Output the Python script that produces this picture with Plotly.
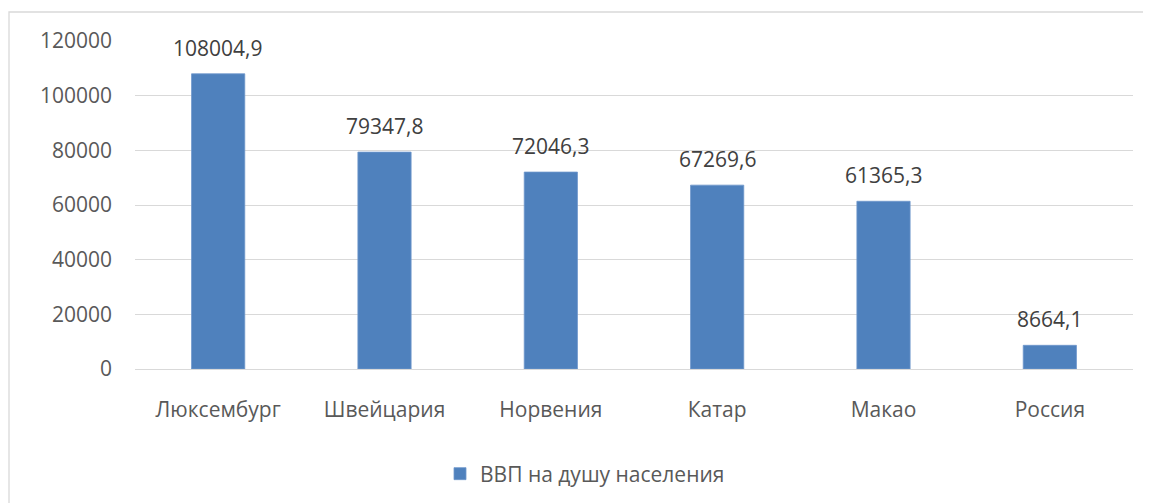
import plotly.graph_objects as go

categories = ["Люксембург", "Швейцария", "Норвения", "Катар", "Макао", "Россия"]
values = [108004.9, 79347.8, 72046.3, 67269.6, 61365.3, 8664.1]
series_name = "ВВП на душу населения"
y_ticks = [0, 20000, 40000, 60000, 80000, 100000, 120000]

labels = [f"{v:.1f}".replace(".", ",") for v in values]

OFF = 8  # default page body margin
W, H = 1151 - OFF, 503 - OFF
L, T = 135 - OFF, 41 - OFF
R = W - (1133 - OFF)
B = H - (369 - OFF)
pw, ph = W - L - R, H - T - B
FS = 21

fig = go.Figure(go.Bar(
    x=categories, y=values, name=series_name,
    marker=dict(color="#4f81bd", line=dict(color="#6f97cc", width=0.8)),
    showlegend=True,
))

for c, v, t in zip(categories, values, labels):
    fig.add_annotation(x=c, y=v, text=t, showarrow=False, yanchor="bottom",
                       yshift=10, font=dict(color="#404040", size=FS, family="Open Sans"))

legend_x = (585 - OFF - L) / pw
legend_y = -(474 - OFF - (T + ph)) / ph

fig.update_layout(
    width=W, height=H,
    margin=dict(l=L, r=R, t=T, b=B, autoexpand=False),
    paper_bgcolor="white", plot_bgcolor="white",
    font=dict(family="Open Sans", size=FS, color="#595959"),
    bargap=0.68,
    legend=dict(orientation="h", x=legend_x, y=legend_y,
                xanchor="center", yanchor="middle",
                font=dict(size=FS, color="#595959"), itemwidth=30),
    xaxis=dict(showline=False, ticks="", ticklabelstandoff=26, tickfont=dict(size=FS)),
    yaxis=dict(range=[0, 120000], tickvals=y_ticks, ticktext=[str(v) for v in y_ticks],
               showgrid=True, gridcolor="#d9d9d9", gridwidth=1.3,
               zeroline=True, zerolinecolor="#d9d9d9", zerolinewidth=1.3,
               ticks="", ticklabelstandoff=22, tickfont=dict(size=FS)),
    shapes=[dict(type="rect", xref="paper", yref="paper",
                 x0=(9 - OFF - L) / pw, x1=(W + 20 - L) / pw,
                 y0=-(H + 20 - T - ph) / ph, y1=1 + (T - (12 - OFF)) / ph,
                 line=dict(color="#d9d9d9", width=1.3), layer="below")],
)

fig.write_html("out.html")
